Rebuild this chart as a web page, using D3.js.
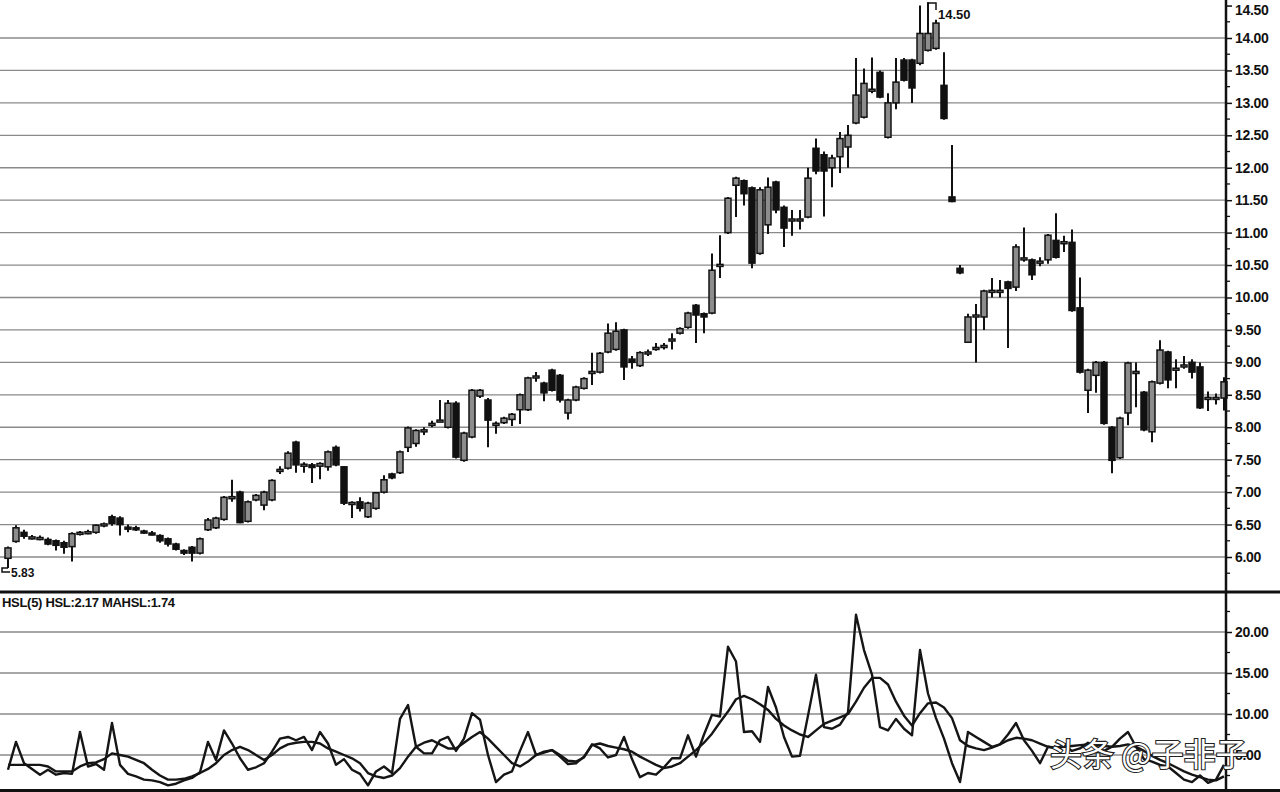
<!DOCTYPE html>
<html><head><meta charset="utf-8">
<script src="https://cdn.jsdelivr.net/npm/d3@7"></script>
<style>html,body{margin:0;padding:0;background:#fff;}svg{display:block;}</style>
</head><body>
<script>
// ---------- data ----------
const opens  = [5.98,6.24,6.38,6.30,6.30,6.27,6.25,6.22,6.16,6.37,6.38,6.38,6.50,6.62,6.60,6.46,6.45,6.40,6.37,6.33,6.28,6.20,6.10,6.15,6.06,6.42,6.45,6.58,6.92,7.00,6.55,6.88,6.80,6.88,7.34,7.37,7.77,7.42,7.42,7.40,7.39,7.69,7.39,6.83,6.85,6.62,6.75,7.00,7.28,7.30,7.69,7.75,7.95,8.05,8.10,8.00,8.37,7.49,7.85,8.48,8.42,8.05,8.07,8.12,8.27,8.27,8.78,8.68,8.88,8.80,8.22,8.42,8.60,8.85,8.85,9.16,9.20,9.50,9.05,8.95,9.15,9.22,9.25,9.35,9.45,9.54,9.88,9.75,9.76,10.50,11.00,11.73,11.80,11.69,10.68,11.12,11.78,11.39,11.20,11.20,11.24,12.30,12.20,12.00,12.17,12.32,12.69,12.78,13.20,13.47,12.47,13.00,13.66,13.66,13.61,13.81,13.84,13.27,11.55,10.45,9.31,9.72,9.70,10.10,10.10,10.24,10.16,10.60,10.58,10.55,10.58,10.88,10.85,10.85,9.84,8.57,8.80,9.00,8.00,7.53,8.22,8.85,8.54,7.93,8.68,9.16,8.90,8.95,9.00,8.93,8.45,8.45,8.45];
const highs  = [6.16,6.49,6.42,6.34,6.33,6.30,6.27,6.25,6.38,6.40,6.42,6.50,6.53,6.65,6.63,6.50,6.48,6.42,6.40,6.35,6.30,6.22,6.12,6.17,6.30,6.60,6.62,6.94,7.19,7.02,6.87,6.97,7.02,7.20,7.40,7.63,7.79,7.46,7.45,7.46,7.64,7.72,7.40,6.86,6.92,6.85,7.00,7.26,7.30,7.64,8.01,7.97,8.00,8.10,8.42,8.42,8.40,7.93,8.59,8.59,8.45,8.09,8.16,8.22,8.52,8.78,8.85,8.70,8.90,8.82,8.44,8.64,8.77,9.15,9.16,9.60,9.62,9.52,9.10,9.17,9.20,9.30,9.30,9.45,9.54,9.78,9.90,9.77,10.68,10.96,11.55,11.86,11.82,11.71,11.70,11.85,11.80,11.42,11.35,11.35,12.00,12.45,12.25,12.20,12.55,12.66,13.69,13.53,13.70,13.50,13.15,13.69,13.69,13.68,14.50,14.55,14.28,13.78,12.35,10.50,9.75,9.90,10.12,10.30,10.27,10.26,10.82,11.08,10.60,10.62,10.98,11.30,10.95,11.05,10.31,8.90,9.02,9.02,8.02,8.16,9.01,9.00,8.56,8.72,9.34,9.18,9.05,9.10,9.05,9.00,8.55,8.52,8.77];
const lows   = [5.83,6.22,6.28,6.27,6.26,6.18,6.10,6.05,5.93,6.33,6.35,6.36,6.46,6.48,6.33,6.38,6.40,6.36,6.33,6.22,6.16,6.10,6.03,5.93,6.04,6.40,6.43,6.56,6.85,6.52,6.53,6.86,6.72,6.86,7.28,7.35,7.30,7.30,7.14,7.20,7.33,7.40,6.80,6.60,6.70,6.60,6.73,6.98,7.20,7.28,7.62,7.70,7.88,8.00,8.08,7.98,7.52,7.47,7.83,8.45,7.69,7.90,8.05,8.02,8.05,8.25,8.70,8.40,8.55,8.38,8.12,8.40,8.58,8.65,8.83,9.14,9.18,8.73,8.90,8.93,9.10,9.18,9.20,9.20,9.43,9.52,9.30,9.45,9.74,10.30,10.98,11.24,11.42,10.45,10.66,10.98,11.30,10.78,10.95,11.05,11.22,11.90,11.25,11.70,11.92,12.00,12.67,12.76,13.15,13.07,12.45,12.90,13.33,13.00,13.58,13.79,13.82,12.74,11.47,10.36,9.30,9.00,9.50,10.00,10.00,9.22,10.10,10.55,10.27,10.48,10.52,10.60,10.70,9.78,8.83,8.22,8.53,8.04,7.29,7.51,8.03,8.31,7.94,7.77,8.66,8.60,8.60,8.90,8.75,8.28,8.25,8.35,8.26];
const closes = [6.14,6.45,6.32,6.31,6.30,6.20,6.18,6.15,6.36,6.38,6.39,6.49,6.51,6.52,6.50,6.45,6.44,6.38,6.36,6.25,6.20,6.12,6.06,6.06,6.28,6.57,6.60,6.92,6.93,6.53,6.85,6.95,7.00,7.18,7.35,7.60,7.42,7.43,7.38,7.44,7.62,7.42,6.83,6.84,6.75,6.83,6.99,7.19,7.22,7.62,7.99,7.95,7.96,8.06,8.11,8.37,7.54,7.91,8.57,8.57,8.11,8.06,8.14,8.20,8.50,8.76,8.79,8.53,8.57,8.42,8.42,8.62,8.75,8.86,9.14,9.45,9.48,8.93,9.00,9.15,9.16,9.23,9.26,9.36,9.52,9.76,9.73,9.70,10.42,10.51,11.53,11.84,11.60,10.53,11.66,11.70,11.35,11.07,11.21,11.21,11.84,11.95,11.95,12.15,12.45,12.50,13.12,13.30,13.21,13.09,13.00,13.32,13.35,13.23,14.07,14.07,14.23,12.76,11.48,10.38,9.70,9.73,10.10,10.11,10.11,10.14,10.78,10.61,10.35,10.56,10.96,10.62,10.86,9.80,8.85,8.88,9.00,8.06,7.49,8.14,8.99,8.86,7.96,8.70,9.19,8.73,8.91,8.96,8.85,8.30,8.46,8.46,8.70];
const hsl    = [3.2,6.6,4.0,3.3,2.6,3.2,2.6,2.8,2.7,7.8,3.6,3.9,3.2,8.9,3.8,2.7,2.4,2.0,1.9,1.7,1.3,1.5,1.9,2.2,2.9,6.6,4.4,8.0,6.4,4.6,3.2,3.5,4.0,5.4,7.0,7.2,6.8,7.2,5.6,7.8,6.4,3.8,4.5,3.2,2.7,1.3,3.0,3.6,2.8,9.4,11.1,6.0,5.2,5.2,6.8,7.2,5.5,7.0,10.1,9.3,5.0,1.7,2.6,3.0,5.5,7.8,5.0,5.4,5.6,5.0,4.3,4.2,4.7,6.3,5.8,4.7,5.0,7.2,4.5,2.3,2.8,2.6,3.5,4.6,4.6,7.4,4.8,7.5,9.9,9.7,18.2,16.4,7.8,7.9,6.6,13.3,10.8,7.2,4.8,4.9,9.8,14.8,8.4,8.2,8.7,10.2,22.1,17.8,14.8,8.4,8.0,9.4,8.2,7.4,17.8,12.5,9.5,7.0,4.0,1.7,7.8,7.2,6.6,6.0,6.3,7.5,8.9,6.8,5.5,4.0,6.0,5.8,6.2,5.5,5.8,6.5,6.0,5.5,6.0,7.0,7.8,6.0,4.5,4.2,3.8,3.6,2.8,2.0,1.7,2.5,1.6,2.0,3.8];
const mahsl  = [3.8,3.8,3.8,3.8,3.8,3.6,3.0,3.0,3.0,3.6,4.0,4.1,4.5,5.2,5.0,4.8,4.4,4.0,3.2,2.5,2.0,2.0,2.1,2.4,2.8,3.3,4.0,5.0,5.6,6.0,5.6,5.0,4.4,5.0,5.8,6.3,6.5,6.6,6.6,6.4,5.8,5.4,5.0,4.6,4.0,2.8,2.4,2.2,2.5,3.4,4.8,6.0,6.5,6.8,6.3,5.8,5.8,6.5,7.2,7.8,7.0,6.0,5.0,4.0,3.6,4.2,5.0,5.3,5.6,4.8,3.9,4.0,4.8,6.2,6.4,6.1,5.9,5.7,5.4,4.8,4.3,3.8,3.4,3.6,4.0,4.8,5.6,6.5,7.6,9.0,10.3,11.8,12.2,11.8,11.2,10.5,9.4,8.6,8.0,7.5,7.2,8.0,8.8,9.2,9.6,10.0,11.5,13.2,14.4,14.4,13.6,11.5,9.8,8.6,10.1,11.3,11.4,10.8,9.5,6.8,6.1,5.8,5.6,5.9,6.3,6.8,7.1,7.0,6.8,6.4,6.0,5.9,6.0,6.1,6.2,6.3,6.2,6.1,6.0,6.1,6.3,6.0,5.5,4.9,4.4,4.0,3.5,3.0,2.6,2.3,2.0,1.9,2.4];
const priceTicks = [6.0,6.5,7.0,7.5,8.0,8.5,9.0,9.5,10.0,10.5,11.0,11.5,12.0,12.5,13.0,13.5,14.0,14.5];
const hslTicks   = [5,10,15,20];
const indicatorLabel = "HSL(5)  HSL:2.17  MAHSL:1.74";
const minLabel = "5.83";
const maxLabel = "14.50";
const watermark = "头条 @子非子";

// ---------- layout ----------
const W = 1280, H = 792;
const axisX = 1226;
const svg = d3.select("body").append("svg").attr("width", W).attr("height", H)
  .style("font-family", "'Liberation Sans', Arial, sans-serif");
svg.append("rect").attr("width", W).attr("height", H).attr("fill", "#fff");

const x = d3.scaleLinear().domain([0, opens.length - 1]).range([8, 1224]);
const yP = d3.scaleLinear().domain([6, 14]).range([557, 38]);
const yI = d3.scaleLinear().domain([5, 20]).range([755, 632]);

// grid
const grid = svg.append("g").attr("stroke", "#8a8a8a").attr("stroke-width", 1.3);
grid.selectAll("line.p").data(priceTicks.filter(t => t < 14.4)).join("line")
  .attr("x1", 0).attr("x2", axisX).attr("y1", d => yP(d)).attr("y2", d => yP(d));
grid.selectAll("line.i").data(hslTicks).join("line")
  .attr("x1", 0).attr("x2", axisX).attr("y1", d => yI(d)).attr("y2", d => yI(d));

// candles
const idx = d3.range(opens.length);
const cg = svg.append("g");
cg.selectAll("line.w").data(idx).join("line")
  .attr("x1", i => x(i)).attr("x2", i => x(i))
  .attr("y1", i => yP(highs[i])).attr("y2", i => yP(lows[i]))
  .attr("stroke", "#111").attr("stroke-width", 2);
const bw = 6;
cg.selectAll("rect.b").data(idx).join("rect")
  .attr("x", i => x(i) - bw / 2)
  .attr("y", i => yP(Math.max(opens[i], closes[i])))
  .attr("width", bw)
  .attr("height", i => Math.max(2, Math.abs(yP(opens[i]) - yP(closes[i]))))
  .attr("fill", i => closes[i] >= opens[i] ? "#8c8c8c" : "#111")
  .attr("stroke", "#111").attr("stroke-width", 1.5);

// min / max markers
const iMin = d3.minIndex(lows), iMax = d3.maxIndex(highs);
svg.append("path").attr("fill", "none").attr("stroke", "#111").attr("stroke-width", 1.5)
  .attr("d", `M${x(iMin)},${yP(lows[iMin])} H2 V${yP(lows[iMin]) + 4} H10`);
svg.append("text").attr("x", 11).attr("y", yP(lows[iMin]) + 9)
  .attr("font-size", 12).attr("font-weight", "bold").attr("fill", "#111").text(minLabel);
svg.append("path").attr("fill", "none").attr("stroke", "#111").attr("stroke-width", 1.5)
  .attr("d", `M${x(iMax)},${yP(highs[iMax])} V3 H${x(iMax) + 8} V10`);
svg.append("text").attr("x", x(iMax) + 10).attr("y", 19)
  .attr("font-size", 13).attr("font-weight", "bold").attr("fill", "#111").text(maxLabel);

// indicator lines
const line = d3.line().x((d, i) => x(i)).y(d => yI(d));
svg.append("path").datum(mahsl).attr("d", line).attr("fill", "none")
  .attr("stroke", "#151515").attr("stroke-width", 2.4).attr("stroke-linejoin", "round");
svg.append("path").datum(hsl).attr("d", line).attr("fill", "none")
  .attr("stroke", "#151515").attr("stroke-width", 2.4).attr("stroke-linejoin", "round");

// separators
svg.append("line").attr("x1", 0).attr("x2", W).attr("y1", 592).attr("y2", 592)
  .attr("stroke", "#111").attr("stroke-width", 3);
svg.append("line").attr("x1", 0).attr("x2", W).attr("y1", 790.5).attr("y2", 790.5)
  .attr("stroke", "#111").attr("stroke-width", 3);

// axes
const fmt = d3.format(".2f");
const axP = svg.append("g").attr("transform", `translate(${axisX},0)`)
  .call(d3.axisRight(yP).tickValues(priceTicks).tickSize(6).tickPadding(3).tickFormat(fmt));
const axI = svg.append("g").attr("transform", `translate(${axisX},0)`)
  .call(d3.axisRight(yI).tickValues(hslTicks).tickSize(6).tickPadding(3).tickFormat(fmt));
[axP, axI].forEach(g => {
  g.select(".domain").remove();
  g.selectAll(".tick line").attr("stroke", "#111").attr("stroke-width", 1.5);
  g.selectAll(".tick text").attr("fill", "#111").attr("font-size", 14).attr("font-weight", "bold")
    .attr("letter-spacing", -0.3);
});
// keep the top label inside the picture
axP.selectAll(".tick").filter(d => d === 14.5).select("text").attr("dy", "0.62em");
// minor ticks
const minorP = d3.range(5.75, 14.6, 0.25).filter(v => Math.abs(v * 2 - Math.round(v * 2)) > 0.01);
svg.append("g").selectAll("line").data(minorP).join("line")
  .attr("x1", axisX).attr("x2", axisX + 4).attr("y1", d => yP(d)).attr("y2", d => yP(d))
  .attr("stroke", "#111").attr("stroke-width", 1.3);
const minorI = [2.5, 7.5, 12.5, 17.5, 22.5];
svg.append("g").selectAll("line").data(minorI).join("line")
  .attr("x1", axisX).attr("x2", axisX + 4).attr("y1", d => yI(d)).attr("y2", d => yI(d))
  .attr("stroke", "#111").attr("stroke-width", 1.3);
svg.append("line").attr("x1", axisX).attr("x2", axisX).attr("y1", 0).attr("y2", H)
  .attr("stroke", "#111").attr("stroke-width", 2.5);

// indicator label
svg.append("text").attr("x", 2).attr("y", 607).attr("font-size", 13).attr("font-weight", "bold")
  .attr("fill", "#111").attr("letter-spacing", -0.3).text(indicatorLabel);

// watermark
svg.append("text").attr("x", 1050).attr("y", 766)
  .attr("font-family", "'Noto Sans CJK SC', sans-serif").attr("font-size", 32)
  .attr("fill", "#fff").attr("stroke", "#222").attr("stroke-width", 2.2)
  .attr("paint-order", "stroke").text(watermark);
</script>
</body></html>
